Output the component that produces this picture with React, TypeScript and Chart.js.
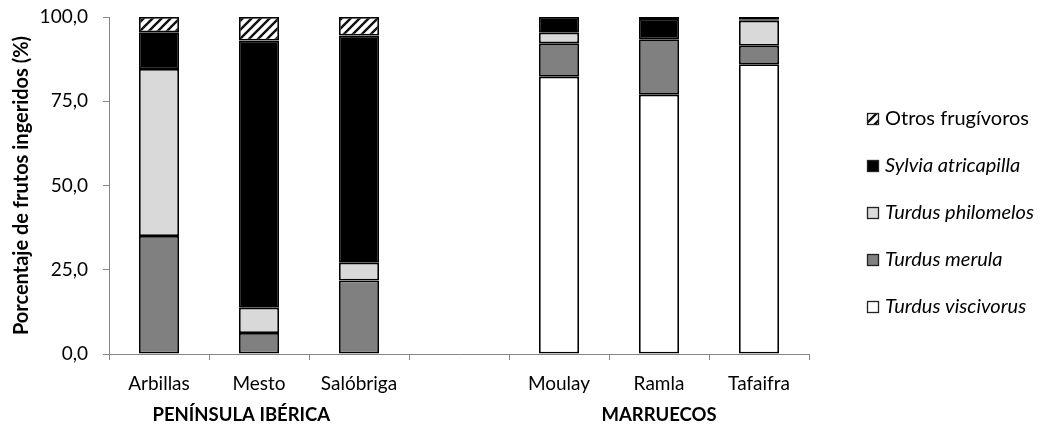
import React, { useEffect, useRef } from 'react';
import { Chart, registerables } from 'chart.js';

Chart.register(...registerables);

const categories = ['Arbillas', 'Mesto', 'Salóbriga', '', 'Moulay', 'Ramla', 'Tafaifra'];
const groupLabels = ['', 'PENÍNSULA IBÉRICA\u00A0\u00A0\u00A0\u00A0\u00A0\u00A0\u00A0\u00A0', '', '', '', 'MARRUECOS', ''];

const turdusViscivorus = [0, 0, 0, null, 82.3, 76.9, 86.0];
const turdusMerula = [35.0, 6.2, 21.8, null, 9.9, 16.5, 5.5];
const turdusPhilomelos = [49.6, 7.5, 5.3, null, 3.1, 0, 7.4];
const sylviaAtricapilla = [10.9, 79.3, 67.4, null, 4.7, 6.0, 0.3];
const otrosFrugivoros = [4.5, 7.0, 5.5, null, 0, 0.6, 0.8];

const seriesLabels = ['Turdus viscivorus', 'Turdus merula', 'Turdus philomelos', 'Sylvia atricapilla', 'Otros frugívoros'];

const yMin = 0;
const yMax = 100;
const yStep = 25;

const FONT = 'Lato';

function makeHatch(): CanvasPattern | string {
  const size = 9;
  const c = document.createElement('canvas');
  c.width = size;
  c.height = size;
  const g = c.getContext('2d');
  if (!g) return '#888';
  g.fillStyle = '#ffffff';
  g.fillRect(0, 0, size, size);
  g.strokeStyle = '#111111';
  g.lineWidth = 2.4;
  g.beginPath();
  g.moveTo(-2, size + 2);
  g.lineTo(size + 2, -2);
  g.moveTo(-2, 2);
  g.lineTo(2, -2);
  g.moveTo(size - 2, size + 2);
  g.lineTo(size + 2, size - 2);
  g.stroke();
  const p = g.createPattern(c, 'repeat');
  return p || '#888';
}

export default function App() {
  const ref = useRef<HTMLCanvasElement | null>(null);

  useEffect(() => {
    if (!ref.current) return;
    const hatch = makeHatch();
    const fills = ['#ffffff', '#808080', '#d9d9d9', '#000000', hatch];
    const values = [turdusViscivorus, turdusMerula, turdusPhilomelos, sylviaAtricapilla, otrosFrugivoros];

    const sideLegend = {
      id: 'sideLegend',
      afterDraw(chart: any) {
        const { ctx, chartArea } = chart;
        const ds = chart.data.datasets;
        const x0 = chartArea.right + 58;
        let y = chartArea.top + 102;
        ctx.save();
        for (let i = ds.length - 1; i >= 0; i--) {
          const d = ds[i];
          ctx.fillStyle = d.backgroundColor;
          ctx.fillRect(x0, y - 6, 12, 12);
          ctx.strokeStyle = '#222222';
          ctx.lineWidth = 1.3;
          ctx.strokeRect(x0 + 0.5, y - 5.5, 11, 11);
          const italic = d.label !== 'Otros frugívoros';
          ctx.font = `${italic ? 'italic ' : ''}20px ${FONT}`;
          ctx.fillStyle = '#000000';
          ctx.textBaseline = 'middle';
          ctx.textAlign = 'left';
          ctx.fillText(d.label, x0 + 18, y);
          y += 47;
        }
        ctx.restore();
      },
    };

    const chart = new Chart(ref.current, {
      type: 'bar',
      data: {
        labels: categories,
        datasets: values.map((v, i) => ({
          label: seriesLabels[i],
          data: v,
          backgroundColor: fills[i] as any,
          borderColor: '#000000',
          borderWidth: 1.75,
          borderSkipped: false,
          barPercentage: 0.4,
          categoryPercentage: 1.0,
          stack: 's',
        })),
      },
      options: {
        responsive: false,
        animation: false,
        layout: { padding: { top: 17, right: 234, bottom: 0, left: 0 } },
        plugins: {
          legend: { display: false },
          tooltip: { enabled: false },
        },
        scales: {
          x: {
            type: 'category',
            position: 'bottom',
            stacked: true,
            offset: true,
            weight: 0,
            grid: {
              display: true,
              offset: true,
              drawOnChartArea: false,
              drawTicks: true,
              tickLength: 6,
              color: '#868686',
            },
            border: { display: true, color: '#868686', width: 1 },
            ticks: {
              font: { family: FONT, size: 19 },
              color: '#000000',
              padding: 12,
              maxRotation: 0,
              autoSkip: false,
            },
            afterFit: (s: any) => { s.height = 45; },
          },
          x2: {
            type: 'category',
            position: 'bottom',
            labels: groupLabels,
            offset: true,
            weight: 1,
            grid: { display: false, drawTicks: false },
            border: { display: false },
            ticks: {
              font: { family: FONT, size: 18.5, weight: 'bold' },
              color: '#000000',
              padding: 5,
              maxRotation: 0,
              autoSkip: false,
            },
            afterFit: (s: any) => { s.height = 26; },
          },
          y: {
            stacked: true,
            min: yMin,
            max: yMax,
            grid: {
              display: true,
              drawOnChartArea: false,
              drawTicks: true,
              tickLength: 6,
              color: '#868686',
            },
            border: { display: true, color: '#868686', width: 1 },
            ticks: {
              stepSize: yStep,
              font: { family: FONT, size: 19 },
              color: '#000000',
              padding: 15,
              callback: (v: any) => Number(v).toFixed(1).replace('.', ','),
            },
            title: {
              display: true,
              text: 'Porcentaje de frutos ingeridos (%)',
              font: { family: FONT, size: 20, weight: 'bold' },
              color: '#000000',
              padding: { top: 10, bottom: 0 },
            },
            afterFit: (s: any) => {
              s.width = 109;
              s.paddingTop = 10;
              s.paddingBottom = 10;
            },
          },
        },
      },
      plugins: [sideLegend],
    });
    return () => chart.destroy();
  }, []);

  return (
    <div style={{ position: 'absolute', left: 0, top: 0, width: 1043, height: 425, background: '#ffffff' }}>
      <canvas ref={ref} width={1043} height={425} />
    </div>
  );
}
